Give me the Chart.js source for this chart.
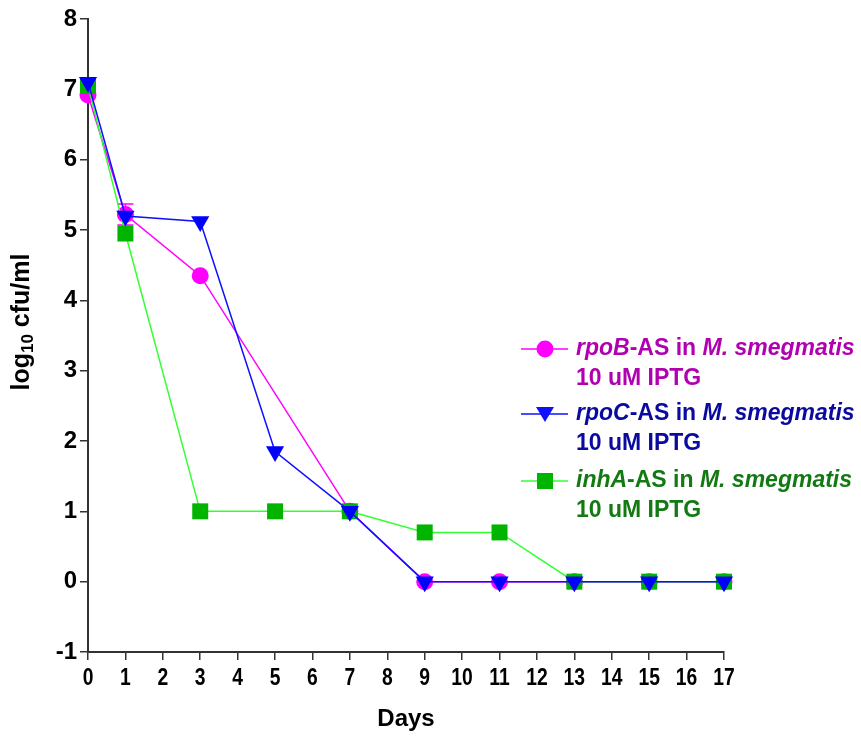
<!DOCTYPE html>
<html>
<head>
<meta charset="utf-8">
<script src="https://cdn.jsdelivr.net/npm/chart.js@4.4.1/dist/chart.umd.min.js"></script>
<style>
  html, body { margin: 0; padding: 0; background: #fff; }
  #wrap { width: 861px; height: 737px; }
</style>
</head>
<body>
<div id="wrap"><canvas id="chart" width="861" height="737"></canvas></div>
<script>
// data
const days = [0, 1, 3, 5, 7, 9, 11, 13, 15, 17];
const rpoB = [6.92, 5.22, 4.35, null, 1.0, 0, 0, 0, 0, 0];
const rpoC = [7.1, 5.2, 5.12, 1.85, 1.0, 0, 0, 0, 0, 0];
const inhA = [7.05, 4.95, 1.0, 1.0, 1.0, 0.7, 0.7, 0, 0, 0];
const rpoBErr = [0, 0.15, 0, 0, 0, 0, 0, 0, 0, 0];
const yTicks = [-1, 0, 1, 2, 3, 4, 5, 6, 7, 8];
const xTicks = [0, 1, 2, 3, 4, 5, 6, 7, 8, 9, 10, 11, 12, 13, 14, 15, 16, 17];

const legendItems = [
    { parts: [["rpoB", true], ["-AS in ", false], ["M. smegmatis", true]], line2: "10 uM IPTG",
      color: "#ff00ff", text: "#b000b0", style: "circle" },
    { parts: [["rpoC", true], ["-AS in ", false], ["M. smegmatis", true]], line2: "10 uM IPTG",
      color: "#1010ff", text: "#0a0aa0", style: "triangle" },
    { parts: [["inhA", true], ["-AS in ", false], ["M. smegmatis", true]], line2: "10 uM IPTG",
      color: "#33ff33", fill: "#00b400", text: "#137a13", style: "rect" }
];

function pts(vals) {
    return days.map((d, i) => ({ x: d, y: vals[i] }));
}

const FONT = "'Liberation Sans', Arial, sans-serif";

// error bars, narrow x tick labels, axis titles, legend
const extras = {
    id: "extras",
    beforeDatasetsDraw(chart) {
        const ctx = chart.ctx;
        const xs = chart.scales.x, ys = chart.scales.y;
        ctx.save();
        ctx.strokeStyle = "#ff00ff";
        ctx.lineWidth = 1.5;
        rpoBErr.forEach((e, i) => {
            if (!e || rpoB[i] === null) return;
            const px = xs.getPixelForValue(days[i]);
            const top = ys.getPixelForValue(rpoB[i] + e);
            const bot = ys.getPixelForValue(rpoB[i] - e);
            ctx.beginPath();
            ctx.moveTo(px, top); ctx.lineTo(px, bot);
            ctx.moveTo(px - 8, top); ctx.lineTo(px + 8, top);
            ctx.moveTo(px - 8, bot); ctx.lineTo(px + 8, bot);
            ctx.stroke();
        });
        ctx.restore();
    },
    afterDraw(chart) {
        const ctx = chart.ctx;
        const area = chart.chartArea;
        const xs = chart.scales.x;
        ctx.save();
        ctx.fillStyle = "#000";

        // x tick labels, condensed like the original
        ctx.font = "bold 23px " + FONT;
        ctx.textAlign = "center";
        ctx.textBaseline = "middle";
        xs.ticks.forEach(t => {
            const px = xs.getPixelForValue(t.value);
            ctx.save();
            ctx.translate(px, 679);
            ctx.scale(0.84, 1);
            ctx.fillText(String(t.value), 0, 0);
            ctx.restore();
        });

        // x title
        ctx.font = "bold 24px " + FONT;
        ctx.fillText("Days", (area.left + area.right) / 2, 719);

        // y title with subscript
        ctx.translate(22, 322);
        ctx.rotate(-Math.PI / 2);
        ctx.textAlign = "left";
        ctx.textBaseline = "middle";
        const a = "log", b = "10", c = " cfu/ml";
        ctx.font = "bold 25px " + FONT;
        const wa = ctx.measureText(a).width, wc = ctx.measureText(c).width;
        ctx.font = "bold 17px " + FONT;
        const wb = ctx.measureText(b).width;
        let x0 = -(wa + wb + wc) / 2;
        ctx.font = "bold 25px " + FONT;
        ctx.fillText(a, x0, 0);
        ctx.font = "bold 17px " + FONT;
        ctx.fillText(b, x0 + wa, 6);
        ctx.font = "bold 25px " + FONT;
        ctx.fillText(c, x0 + wa + wb, 0);
        ctx.setTransform(1, 0, 0, 1, 0, 0);

        // legend
        const rows = [349, 414, 481];
        legendItems.forEach((it, k) => {
            const y = rows[k];
            ctx.strokeStyle = it.color;
            ctx.lineWidth = 1.5;
            ctx.beginPath();
            ctx.moveTo(521, y); ctx.lineTo(568, y);
            ctx.stroke();
            ctx.fillStyle = it.fill || it.color;
            ctx.beginPath();
            if (it.style === "circle") {
                ctx.arc(545, y, 8.5, 0, Math.PI * 2);
            } else if (it.style === "triangle") {
                ctx.moveTo(536, y - 7); ctx.lineTo(554, y - 7); ctx.lineTo(545, y + 8);
                ctx.closePath();
            } else {
                ctx.rect(537, y - 8, 16, 16);
            }
            ctx.fill();

            ctx.fillStyle = it.text;
            ctx.textAlign = "left";
            ctx.textBaseline = "middle";
            let tx = 576;
            it.parts.forEach(([t, ital]) => {
                ctx.font = (ital ? "italic " : "") + "bold 23px " + FONT;
                ctx.fillText(t, tx, y);
                tx += ctx.measureText(t).width;
            });
            ctx.font = "bold 23px " + FONT;
            ctx.fillText(it.line2, 576, y + 30);
        });
        ctx.restore();
    }
};

new Chart(document.getElementById("chart"), {
    type: "line",
    data: {
        datasets: [
            {
                label: "rpoC-AS in M. smegmatis 10 uM IPTG",
                data: pts(rpoC),
                borderColor: "#1010ff",
                backgroundColor: "#0000ff",
                borderWidth: 1.5,
                pointStyle: "triangle",
                rotation: 180,
                pointRadius: 10.5,
                pointBorderWidth: 0,
                clip: false,
                order: 0
            },
            {
                label: "inhA-AS in M. smegmatis 10 uM IPTG",
                data: pts(inhA),
                borderColor: "#33ff33",
                backgroundColor: "#00b400",
                borderWidth: 1.5,
                pointStyle: "rect",
                pointRadius: 11.3,
                pointBorderWidth: 0,
                clip: false,
                order: 1
            },
            {
                label: "rpoB-AS in M. smegmatis 10 uM IPTG",
                data: pts(rpoB),
                borderColor: "#ff00ff",
                backgroundColor: "#ff00ff",
                borderWidth: 1.5,
                pointStyle: "circle",
                pointRadius: 8.5,
                pointBorderWidth: 0,
                spanGaps: true,
                clip: false,
                order: 2
            }
        ]
    },
    options: {
        responsive: false,
        animation: false,
        layout: { padding: { top: 19, right: 137, left: 0, bottom: 0 } },
        plugins: {
            legend: { display: false },
            tooltip: { enabled: false }
        },
        scales: {
            x: {
                type: "linear",
                min: 0,
                max: 17,
                afterBuildTicks: s => { s.ticks = xTicks.map(v => ({ value: v })); },
                afterFit: s => { s.height = 85; },
                grid: { display: true, drawOnChartArea: false, drawTicks: true, tickLength: 8, color: "#333", lineWidth: 1.5 },
                border: { display: true, color: "#333", width: 2 },
                ticks: { display: false, autoSkip: false }
            },
            y: {
                min: -1,
                max: 8,
                afterBuildTicks: s => { s.ticks = yTicks.map(v => ({ value: v })); },
                afterFit: s => { s.width = 88; },
                grid: { display: true, drawOnChartArea: false, drawTicks: true, tickLength: 8, color: "#333", lineWidth: 1.5 },
                border: { display: true, color: "#333", width: 2 },
                ticks: {
                    color: "#000",
                    padding: 3,
                    font: { family: FONT, weight: "bold", size: 24 }
                }
            }
        }
    },
    plugins: [extras]
});
</script>
</body>
</html>
